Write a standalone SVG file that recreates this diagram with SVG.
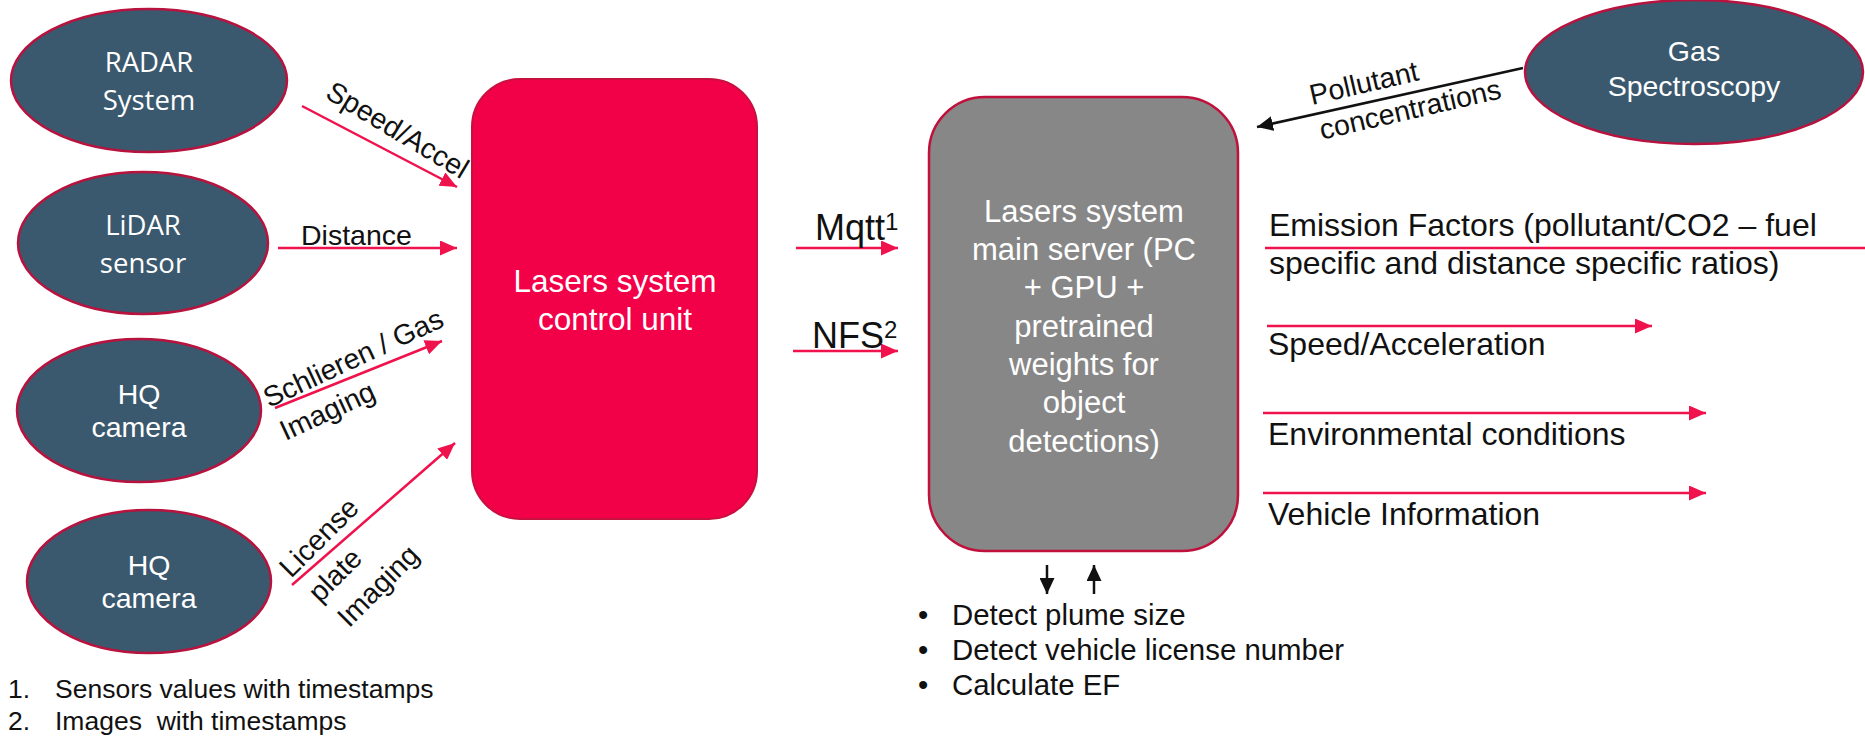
<svg xmlns="http://www.w3.org/2000/svg" width="1865" height="736" viewBox="0 0 1865 736">
  <style>
    .sensor { fill: #3b596e; stroke: #b8123e; stroke-width: 2.5; }
    .ctrl { fill: #f20048; stroke: #c8103f; stroke-width: 2; }
    .server { fill: #878787; stroke: #c0103c; stroke-width: 2.5; }
    .node-t { font-family: "Liberation Sans", Arial, sans-serif; fill: #ffffff; text-anchor: middle; }
    .node-h { font-family: "Open Sans", "Liberation Sans", sans-serif; fill: #ffffff; text-anchor: middle; font-size: 27.5px; }
    .lbl { font-family: "Liberation Sans", Arial, sans-serif; fill: #111111; font-size: 28.5px; }
    .proto { font-family: "Liberation Sans", Arial, sans-serif; fill: #111111; font-size: 36px; }
    .sup { font-size: 24px; }
    .out { font-family: "Liberation Sans", Arial, sans-serif; fill: #111111; font-size: 32px; }
    .task { font-family: "Liberation Sans", Arial, sans-serif; fill: #111111; font-size: 29.4px; }
    .note { font-family: "Liberation Sans", Arial, sans-serif; fill: #111111; font-size: 26.5px; }
    .red { stroke: #f0124c; stroke-width: 2.5; fill: none; }
    .blk { stroke: #111111; stroke-width: 2.5; fill: none; }
  </style>
  <defs>
    <marker id="arrRed" markerUnits="userSpaceOnUse" markerWidth="18" markerHeight="15" refX="17" refY="7.5" orient="auto">
      <path d="M0,0 L17,7.5 L0,15 z" fill="#f0124c"/>
    </marker>
    <marker id="arrBlk" markerUnits="userSpaceOnUse" markerWidth="17" markerHeight="15" refX="16" refY="7.5" orient="auto">
      <path d="M0,0 L16,7.5 L0,15 z" fill="#111111"/>
    </marker>
  </defs>

  <rect width="1865" height="736" fill="#ffffff"/>

  <!-- sensors -->
  <g id="radar">
    <ellipse class="sensor" cx="149" cy="80.5" rx="138" ry="71.5"/>
    <text class="node-h" x="149" y="72">RADAR</text>
    <text class="node-h" x="149" y="110">System</text>
  </g>
  <g id="lidar">
    <ellipse class="sensor" cx="143" cy="243" rx="125" ry="71"/>
    <text class="node-h" x="143" y="235">LiDAR</text>
    <text class="node-h" x="143" y="273">sensor</text>
  </g>
  <g id="camera-schlieren">
    <ellipse class="sensor" cx="139" cy="410.5" rx="122" ry="71.5"/>
    <text class="node-t" font-size="28.5" x="139" y="404">HQ</text>
    <text class="node-t" font-size="28.5" x="139" y="437">camera</text>
  </g>
  <g id="camera-plate">
    <ellipse class="sensor" cx="149" cy="581.5" rx="122" ry="71.5"/>
    <text class="node-t" font-size="28.5" x="149" y="575">HQ</text>
    <text class="node-t" font-size="28.5" x="149" y="608">camera</text>
  </g>
  <g id="gas-spectroscopy">
    <ellipse class="sensor" cx="1694" cy="72" rx="169" ry="72"/>
    <text class="node-t" font-size="28.5" x="1694" y="61">Gas</text>
    <text class="node-t" font-size="28.5" x="1694" y="96">Spectroscopy</text>
  </g>

  <!-- processing units -->
  <g id="control-unit">
    <rect class="ctrl" x="472" y="79" width="285" height="440" rx="48" ry="48"/>
    <text class="node-t" font-size="31.5" x="615" y="292">Lasers system</text>
    <text class="node-t" font-size="31.5" x="615" y="330">control unit</text>
  </g>
  <g id="main-server">
    <rect class="server" x="929" y="97" width="309" height="454" rx="56" ry="56"/>
    <text class="node-t" font-size="31" x="1084" y="222">Lasers system</text>
    <text class="node-t" font-size="31" x="1084" y="260">main server (PC</text>
    <text class="node-t" font-size="31" x="1084" y="298">+ GPU +</text>
    <text class="node-t" font-size="31" x="1084" y="337">pretrained</text>
    <text class="node-t" font-size="31" x="1084" y="375">weights for</text>
    <text class="node-t" font-size="31" x="1084" y="413">object</text>
    <text class="node-t" font-size="31" x="1084" y="452">detections)</text>
  </g>

  <!-- connectors -->
  <g id="connectors">
    <line class="red" x1="302" y1="106" x2="457" y2="187" marker-end="url(#arrRed)"/>
    <text class="lbl" transform="translate(324,97) rotate(31)">Speed/Accel</text>

    <line class="red" x1="278" y1="248" x2="457" y2="248" marker-end="url(#arrRed)"/>
    <text class="lbl" x="301" y="245">Distance</text>

    <line class="red" x1="275" y1="408" x2="442" y2="341" marker-end="url(#arrRed)"/>
    <text class="lbl" transform="translate(269,408) rotate(-25)">Schlieren / Gas<tspan x="1" dy="37">Imaging</tspan></text>

    <line class="red" x1="292" y1="585" x2="455" y2="443" marker-end="url(#arrRed)"/>
    <text class="lbl" transform="translate(291,579) rotate(-45)">License<tspan x="3" dy="38">plate</tspan><tspan x="6" dy="38">Imaging</tspan></text>

    <line class="red" x1="796" y1="248" x2="898" y2="248" marker-end="url(#arrRed)"/>
    <text class="proto" x="815" y="240">Mqtt<tspan class="sup" dy="-10">1</tspan></text>

    <line class="red" x1="793" y1="351" x2="898" y2="351" marker-end="url(#arrRed)"/>
    <text class="proto" x="812" y="348">NFS<tspan class="sup" dy="-10">2</tspan></text>

    <line class="blk" x1="1523" y1="68" x2="1257" y2="127" marker-end="url(#arrBlk)"/>
    <text class="lbl" transform="translate(1312,105) rotate(-13)">Pollutant<tspan x="2" dy="36">concentrations</tspan></text>

    <line class="red" x1="1265" y1="248" x2="1880" y2="248"/>
    <text class="out" x="1269" y="236">Emission Factors (pollutant/CO2 – fuel</text>
    <text class="out" x="1269" y="274">specific and distance specific ratios)</text>

    <line class="red" x1="1267" y1="326" x2="1652" y2="326" marker-end="url(#arrRed)"/>
    <text class="out" x="1268" y="355">Speed/Acceleration</text>

    <line class="red" x1="1263" y1="413" x2="1706" y2="413" marker-end="url(#arrRed)"/>
    <text class="out" x="1268" y="445">Environmental conditions</text>

    <line class="red" x1="1263" y1="493" x2="1706" y2="493" marker-end="url(#arrRed)"/>
    <text class="out" x="1268" y="525">Vehicle Information</text>

    <line class="blk" stroke-width="2" x1="1047" y1="565" x2="1047" y2="594" marker-end="url(#arrBlk)"/>
    <line class="blk" stroke-width="2" x1="1094" y1="594" x2="1094" y2="565" marker-end="url(#arrBlk)"/>
  </g>

  <!-- server tasks -->
  <g id="server-tasks" class="task">
    <text x="918" y="625">•</text><text x="952" y="625">Detect plume size</text>
    <text x="918" y="660">•</text><text x="952" y="660">Detect vehicle license number</text>
    <text x="918" y="695">•</text><text x="952" y="695">Calculate EF</text>
  </g>

  <!-- footnotes -->
  <g id="footnotes" class="note">
    <text x="8" y="698">1.</text><text x="55" y="698">Sensors values with timestamps</text>
    <text x="8" y="730">2.</text><text x="55" y="730" xml:space="preserve">Images  with timestamps</text>
  </g>
</svg>
